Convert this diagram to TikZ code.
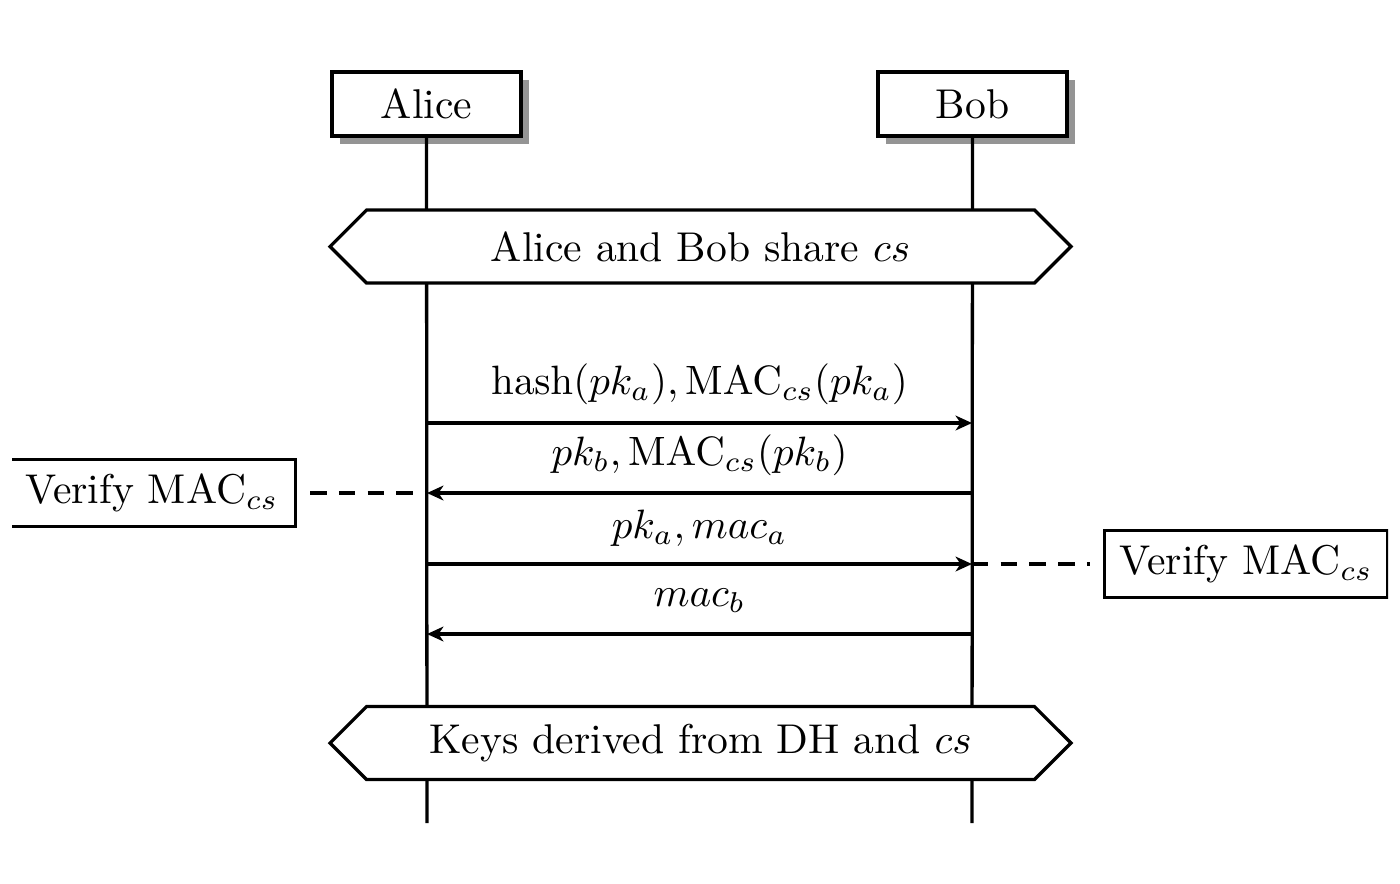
\documentclass[tikz,border=0pt]{standalone}
\usetikzlibrary{arrows.meta,shapes.symbols,shadows}
\begin{document}
\begin{tikzpicture}[x=0.2439pt,y=-0.2439pt,line width=0.8pt,
  every node/.style={font=\fontsize{10.15}{12}\selectfont},
  actor/.style={draw,fill=white,minimum width=46.1pt,minimum height=15.6pt,inner sep=0pt,
    drop shadow={shadow xshift=2pt,shadow yshift=-2pt,fill=black!42,opacity=1}},
  banner/.style={draw,fill=white,signal,signal to=west and east,signal pointer angle=90,
    minimum width=180.7pt,minimum height=17.8pt,inner sep=0pt},
  msg/.style={-{Stealth[length=4pt,width=3.6pt,inset=1.2pt]}},
  vbox/.style={draw,fill=white,minimum width=70pt,minimum height=16.3pt,inner sep=0pt},
  vdash/.style={dash pattern=on 4pt off 3pt},
  lbl/.style={anchor=base,inner sep=0pt}]
\useasboundingbox (0,0) rectangle (1400,883);
% actors
\node[actor] (alice) at (426.5,104) {Alice};
\node[actor] (bob) at (972.5,104) {Bob};
% lifeline ends
\coordinate (aend) at (427,823);
\coordinate (bend) at (972,823);
\draw (alice.south) -- (aend);
\draw (bob.south) -- (bend);
% banners
\node[banner] (share) at (700.5,246.5) {Alice and Bob share $cs$};
\node[banner] (keys) at (700.5,743) {Keys derived from DH and $cs$};
% message points
\coordinate (a1) at (427,423); \coordinate (b1) at (972,423);
\coordinate (a2) at (427,493); \coordinate (b2) at (972,493);
\coordinate (a3) at (427,564); \coordinate (b3) at (972,564);
\coordinate (a4) at (427,634); \coordinate (b4) at (972,634);
\draw[msg] (a1) -- (b1);
\draw[msg] (b2) -- (a2);
\draw[msg] (a3) -- (b3);
\draw[msg] (b4) -- (a4);
\node[lbl] (l1) at (699.5,394) {$\mathrm{hash}(pk_a), \mathrm{MAC}_{cs}(pk_a)$};
\node[lbl] (l2) at (699.5,465) {$pk_b, \mathrm{MAC}_{cs}(pk_b)$};
\node[lbl] (l3) at (699.5,538) {$pk_a, mac_a$};
\node[lbl] (l4) at (699.5,606) {$mac_b$};
% verify boxes
\begin{scope}
\clip (12,0) rectangle (1388,883);
\node[vbox,anchor=east] (va) at (297,493) {Verify MAC$_{cs}$};
\node[vbox,anchor=west,minimum width=69pt] (vb) at (1103,564) {Verify MAC$_{cs}$};
\end{scope}
\draw[vdash,shorten <=3.2pt] (va.east) -- (a2);
\draw[vdash,shorten >=3.2pt] (b3) -- (vb.west);
\end{tikzpicture}
\end{document}
